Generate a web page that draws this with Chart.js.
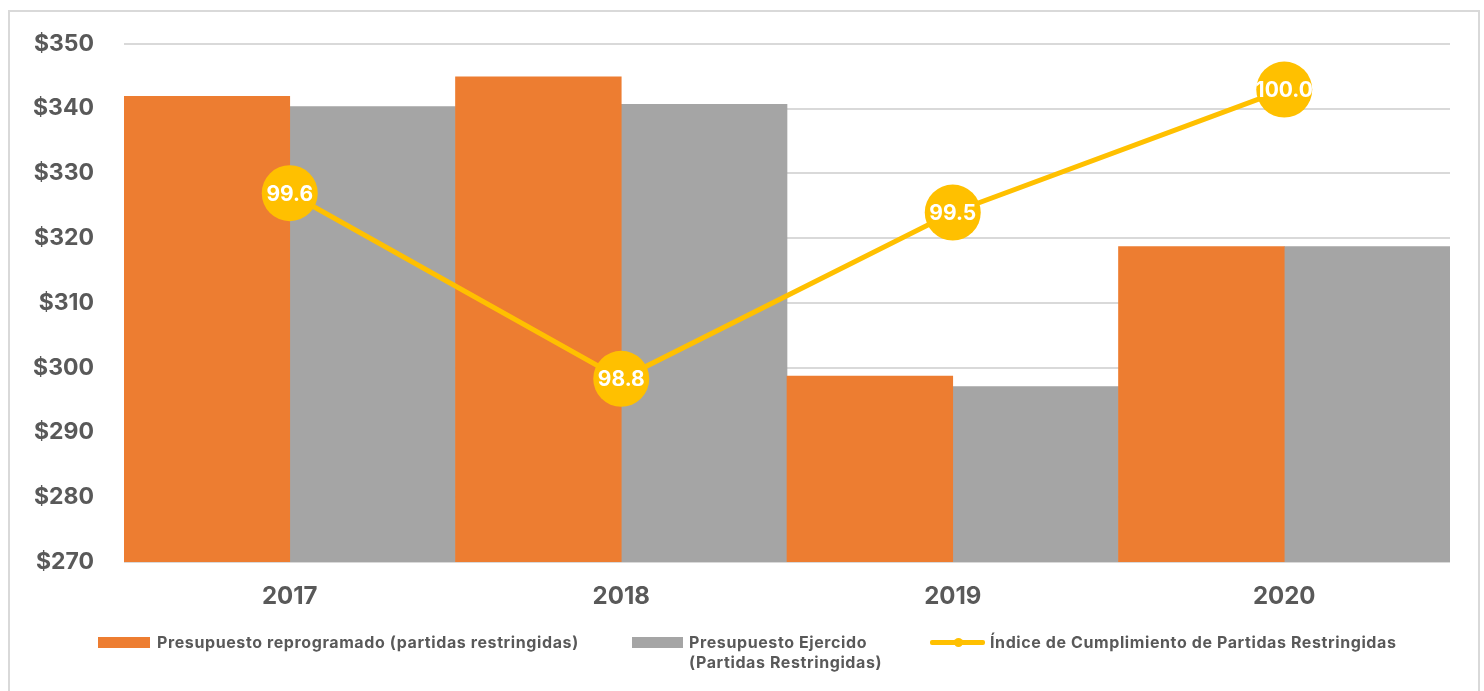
<!DOCTYPE html>
<html>
<head>
<meta charset="utf-8">
<script src="https://cdn.jsdelivr.net/npm/chart.js@4"></script>
<style>
  html, body { margin:0; padding:0; background:#fff; }
  #wrap { position:relative; width:1484px; height:691px; overflow:hidden; font-family: Inter, "Open Sans", sans-serif; }
  #frame { position:absolute; left:8px; top:10px; width:1472px; height:700px; border:2px solid #D9D9D9; box-sizing:border-box; }
  canvas { position:absolute; left:0; top:0; }
  .sw { position:absolute; }
  .lt { position:absolute; font-size:16px; font-weight:700; color:#595959; line-height:20px; white-space:nowrap; letter-spacing:0.6px; }
</style>
</head>
<body>
<div id="wrap">
  <div id="frame"></div>
  <canvas id="c" width="1484" height="691"></canvas>
  <div class="sw" style="left:98px;top:637px;width:52px;height:11px;background:#ED7D31"></div>
  <div class="lt" style="left:157px;top:632px">Presupuesto reprogramado (partidas restringidas)</div>
  <div class="sw" style="left:632px;top:637px;width:51px;height:11px;background:#A5A5A5"></div>
  <div class="lt" style="left:689px;top:632px">Presupuesto Ejercido<br>(Partidas Restringidas)</div>
  <div class="sw" style="left:930px;top:640px;width:55px;height:5px;background:#FFC000;border-radius:2px"></div>
  <div class="sw" style="left:954px;top:638px;width:9px;height:9px;background:#FFC000;border-radius:50%"></div>
  <div class="lt" style="left:990px;top:632px">Índice de Cumplimiento de Partidas Restringidas</div>
</div>
<script>
const categories = ['2017', '2018', '2019', '2020'];
const reprogramado = [341.9, 344.9, 298.7, 318.7];
const ejercido = [340.3, 340.65, 297.1, 318.7];
const indice = [99.57, 98.8, 99.49, 100.0];
const yMin = 270, yMax = 350, yStep = 10;
const y2Min = 98.04, y2Max = 100.19;

const FONT = 'Inter, "Open Sans", sans-serif';

const pointLabels = {
  id: 'pointLabels',
  afterDatasetsDraw(chart) {
    const ctx = chart.ctx;
    const meta = chart.getDatasetMeta(2);
    ctx.save();
    ctx.fillStyle = '#FFFFFF';
    ctx.font = '700 21px ' + FONT;
    ctx.textAlign = 'center';
    ctx.textBaseline = 'middle';
    meta.data.forEach((pt, i) => {
      ctx.fillText(indice[i].toFixed(1), pt.x, pt.y + 1);
    });
    ctx.restore();
  }
};

new Chart(document.getElementById('c'), {
  data: {
    labels: categories,
    datasets: [
      { type: 'bar', label: 'Presupuesto reprogramado (partidas restringidas)', data: reprogramado,
        backgroundColor: '#ED7D31', categoryPercentage: 1.0, barPercentage: 1.0, order: 2, yAxisID: 'y' },
      { type: 'bar', label: 'Presupuesto Ejercido (Partidas Restringidas)', data: ejercido,
        backgroundColor: '#A5A5A5', categoryPercentage: 1.0, barPercentage: 1.0, order: 2, yAxisID: 'y' },
      { type: 'line', label: 'Índice de Cumplimiento de Partidas Restringidas', data: indice,
        borderColor: '#FFC000', backgroundColor: '#FFC000', borderWidth: 5, tension: 0,
        pointRadius: 28, pointHoverRadius: 28, pointBorderWidth: 0, pointBackgroundColor: '#FFC000',
        order: 0, yAxisID: 'y2', clip: false }
    ]
  },
  options: {
    responsive: false,
    animation: false,
    events: [],
    layout: { autoPadding: false, padding: { left: 0, right: 34, top: 40, bottom: 0 } },
    plugins: { legend: { display: false }, tooltip: { enabled: false } },
    scales: {
      x: {
        grid: { display: false, drawTicks: false },
        border: { display: false },
        ticks: { color: '#595959', font: { family: FONT, size: 24, weight: '700' }, padding: 20 },
        afterFit(s) { s.height = 129; }
      },
      y: {
        min: yMin, max: yMax,
        grid: { color: '#D9D9D9', lineWidth: 2, drawTicks: false },
        border: { display: false },
        ticks: { stepSize: yStep, color: '#595959', font: { family: FONT, size: 23, weight: '700' }, padding: 30,
                 callback: v => '$' + v },
        afterFit(s) { s.width = 124; }
      },
      y2: {
        display: false, min: y2Min, max: y2Max, position: 'right'
      }
    }
  },
  plugins: [pointLabels]
});
</script>
</body>
</html>
